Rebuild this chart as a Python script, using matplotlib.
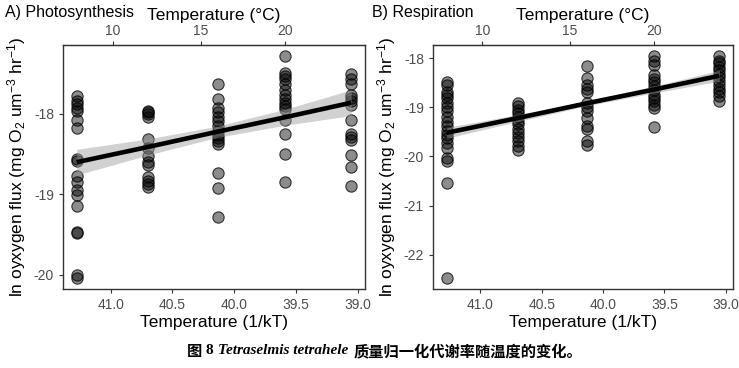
import numpy as np
import matplotlib.pyplot as plt

plt.rcParams['font.family'] = ['Liberation Sans', 'DejaVu Sans']
plt.rcParams['axes.unicode_minus'] = False
plt.rcParams['mathtext.fontset'] = 'custom'
plt.rcParams['mathtext.rm'] = 'Liberation Sans'
plt.rcParams['mathtext.it'] = 'Liberation Sans:italic'

K_BOLTZ = 8.617333e-5

# culture temperatures (deg C)
temps_c = [8, 12, 16, 20, 24]

# ln oxygen flux, photosynthesis (one list per temperature)
photo_8 = [-17.78, -17.84, -17.88, -17.92, -17.96, -18.07, -18.18, -18.56, -18.59,
           -18.77, -18.85, -18.95, -19.01, -19.14, -19.47, -19.48, -20.00, -20.04]
photo_12 = [-17.96, -17.98, -18.00, -18.04, -18.31, -18.42, -18.52, -18.60, -18.64,
            -18.79, -18.83, -18.87, -18.91]
photo_16 = [-17.63, -17.82, -17.93, -17.98, -18.04, -18.09, -18.15, -18.21, -18.26,
            -18.30, -18.34, -18.38, -18.74, -18.92, -19.28]
photo_20 = [-17.28, -17.49, -17.53, -17.57, -17.63, -17.70, -17.76, -17.82, -17.86,
            -17.90, -17.94, -18.08, -18.25, -18.50, -18.85]
photo_24 = [-17.50, -17.57, -17.63, -17.76, -17.80, -17.84, -17.89, -18.07, -18.25,
            -18.29, -18.33, -18.51, -18.66, -18.90]

# ln oxygen flux, respiration
resp_8 = [-18.48, -18.55, -18.68, -18.75, -18.82, -18.92, -19.00, -19.08, -19.19,
          -19.29, -19.39, -19.49, -19.57, -19.63, -19.72, -19.82, -20.04, -20.09,
          -20.55, -22.47]
resp_12 = [-18.92, -18.98, -19.05, -19.12, -19.19, -19.27, -19.35, -19.45, -19.52,
           -19.61, -19.69, -19.79, -19.86]
resp_16 = [-18.17, -18.40, -18.55, -18.63, -18.70, -18.92, -19.00, -19.08, -19.21,
           -19.39, -19.45, -19.69, -19.76]
resp_20 = [-17.96, -18.05, -18.15, -18.35, -18.42, -18.48, -18.56, -18.65, -18.75,
           -18.82, -18.88, -18.95, -19.02, -19.40]
resp_24 = [-17.96, -18.05, -18.11, -18.18, -18.25, -18.32, -18.38, -18.47, -18.55,
           -18.62, -18.68, -18.78, -18.88]

fit_photo = [-18.60, -18.41, -18.22, -18.04, -17.86]
band_photo = [0.16, 0.10, 0.07, 0.10, 0.16]
fit_resp = [-19.52, -19.22, -18.92, -18.64, -18.36]
band_resp = [0.11, 0.07, 0.05, 0.07, 0.11]

kt_ticks = [41.0, 40.5, 40.0, 39.5, 39.0]
c_ticks = [10, 15, 20]


def c_to_kt(c):
    with np.errstate(divide='ignore', invalid='ignore'):
        return 1.0 / (K_BOLTZ * (np.asarray(c, dtype=float) + 273.15))


def kt_to_c(x):
    with np.errstate(divide='ignore', invalid='ignore'):
        return 1.0 / (K_BOLTZ * np.asarray(x, dtype=float)) - 273.15


x_kt = c_to_kt(temps_c)

W, H = 739, 368
fig = plt.figure(figsize=(W / 100, H / 100), dpi=100)
axA = fig.add_axes([63 / W, 1 - 289 / H, 302 / W, 244 / H])
axB = fig.add_axes([433 / W, 1 - 289 / H, 300 / W, 244 / H])

ylab = r'ln oyxygen flux (mg O$_2$ um$^{-3}$ hr$^{-1}$)'
grey_txt = '#4d4d4d'


def draw_panel(ax, groups, fit, hw, yticks):
    for xk, ys in zip(x_kt, groups):
        ax.scatter(np.full(len(ys), xk), ys, s=66, facecolor=(0, 0, 0, 0.45),
                   edgecolor=(0, 0, 0, 0.75), linewidth=0.8, zorder=2)
    fit = np.array(fit)
    hw = np.array(hw)
    ax.fill_between(x_kt, fit - hw, fit + hw, color='#9a9a9a', alpha=0.45,
                    linewidth=0, zorder=3)
    ax.plot(x_kt, fit, color='black', lw=3.3, zorder=4, solid_capstyle='butt')
    ax.invert_xaxis()

    ax.set_xticks(kt_ticks)
    ax.set_xticklabels([f'{t:.1f}' for t in kt_ticks])
    ax.set_yticks(yticks)
    ax.set_yticklabels([str(t) for t in yticks])
    ax.tick_params(colors='#333333', labelcolor=grey_txt, labelsize=10,
                   length=3, width=0.8)
    for sp in ax.spines.values():
        sp.set_color('#333333')
        sp.set_linewidth(1.0)
    ax.set_xlabel('Temperature (1/kT)', fontsize=12.5, labelpad=2)
    ax.set_ylabel(ylab, fontsize=12.5, labelpad=4)

    sec = ax.secondary_xaxis('top', functions=(kt_to_c, c_to_kt))
    sec.set_xticks(c_ticks)
    sec.set_xticklabels([str(t) for t in c_ticks])
    sec.tick_params(colors='#333333', labelcolor=grey_txt, labelsize=10,
                    length=3, width=0.8, pad=2)
    sec.spines['top'].set_color('#333333')
    sec.set_xlabel('Temperature (°C)', fontsize=12.5, labelpad=3)


draw_panel(axA, [photo_8, photo_12, photo_16, photo_20, photo_24],
           fit_photo, band_photo, [-20, -19, -18])
draw_panel(axB, [resp_8, resp_12, resp_16, resp_20, resp_24],
           fit_resp, band_resp, [-22, -21, -20, -19, -18])

fig.text(5 / W, 1 - 12 / H, 'A) Photosynthesis', fontsize=11.5, va='center', ha='left')
fig.text(372 / W, 1 - 12 / H, 'B) Respiration', fontsize=11.5, va='center', ha='left')

# caption with mixed fonts, laid out piece by piece
cjk = ['Noto Sans CJK SC', 'DejaVu Sans']
pieces = [
    ('图', dict(family=cjk, weight='bold'), 3),
    ('8', dict(family='Liberation Serif', weight='bold'), 5),
    ('Tetraselmis tetrahele', dict(family='Liberation Serif', weight='bold', style='italic'), 6),
    ('质量归一化代谢率随温度的变化。', dict(family=cjk, weight='bold'), 0),
]
renderer = fig.canvas.get_renderer()
x = 187
for txt, kw, gap in pieces:
    t = fig.text(x / W, 1 - 351 / H, txt, fontsize=11, va='center', ha='left', **kw)
    bb = t.get_window_extent(renderer)
    x = bb.x1 + gap

fig.savefig('out.png', dpi=100)
